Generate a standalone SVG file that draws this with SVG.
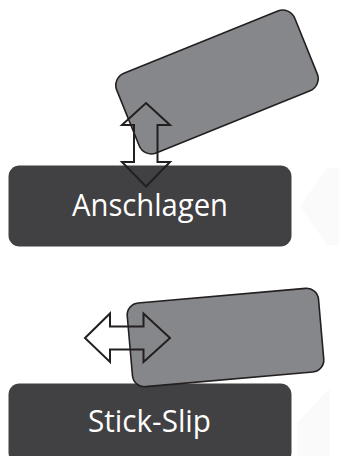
<svg xmlns="http://www.w3.org/2000/svg" width="339" height="456" viewBox="0 0 339 456">
  <style>
    .base { fill: #414042; }
    .block { fill: #86878a; stroke: #231f20; stroke-width: 1.6; }
    .move { fill: none; stroke: #231f20; stroke-width: 2; stroke-linejoin: miter; }
    .label { fill: #ffffff; font-family: "Open Sans", "Liberation Sans", sans-serif; font-size: 31.5px; text-anchor: middle; }
    .ghost { fill: #fafafa; }
  </style>

  <rect width="339" height="456" fill="#ffffff"/>

  <!-- faint background chevrons at the right edge -->
  <polygon class="ghost" points="300,206 327,168 339,168 339,245 327,245"/>
  <polygon class="ghost" points="297,423 328,390 330,390 330,456 297,456"/>

  <!-- Anschlagen: tilted block striking the base -->
  <g id="anschlagen">
    <rect class="base" x="8.5" y="165.5" width="283" height="81" rx="11"/>
    <text class="label" x="150" y="216" textLength="156" lengthAdjust="spacingAndGlyphs">Anschlagen</text>
  </g>
  <g id="block-anschlagen">
    <rect class="block" x="-96" y="-43" width="192" height="86" rx="13" transform="translate(217 82) rotate(-22)"/>
  </g>

  <!-- Stick-Slip: block sliding on the base -->
  <g id="stick-slip">
    <rect class="base" x="8.5" y="383.5" width="283" height="80" rx="11"/>
    <text class="label" x="149.5" y="432" textLength="123" lengthAdjust="spacingAndGlyphs">Stick-Slip</text>
  </g>
  <g id="block-stick-slip">
    <rect class="block" x="-96" y="-42" width="192" height="84" rx="12" transform="translate(225.5 337.5) rotate(-5)"/>
  </g>

  <!-- motion arrows -->
  <g id="connectors">
    <path class="move" d="M146,103 L170,125 L157.5,125 L157.5,162 L170,162 L146,186.5 L122,162 L134,162 L134,125 L122,125 Z"/>
    <path class="move" d="M85,338 L110,313.5 L110,326.5 L143.5,326.5 L143.5,313.5 L170,338 L143.5,362 L143.5,349.5 L110,349.5 L110,362 Z"/>
  </g>
</svg>
